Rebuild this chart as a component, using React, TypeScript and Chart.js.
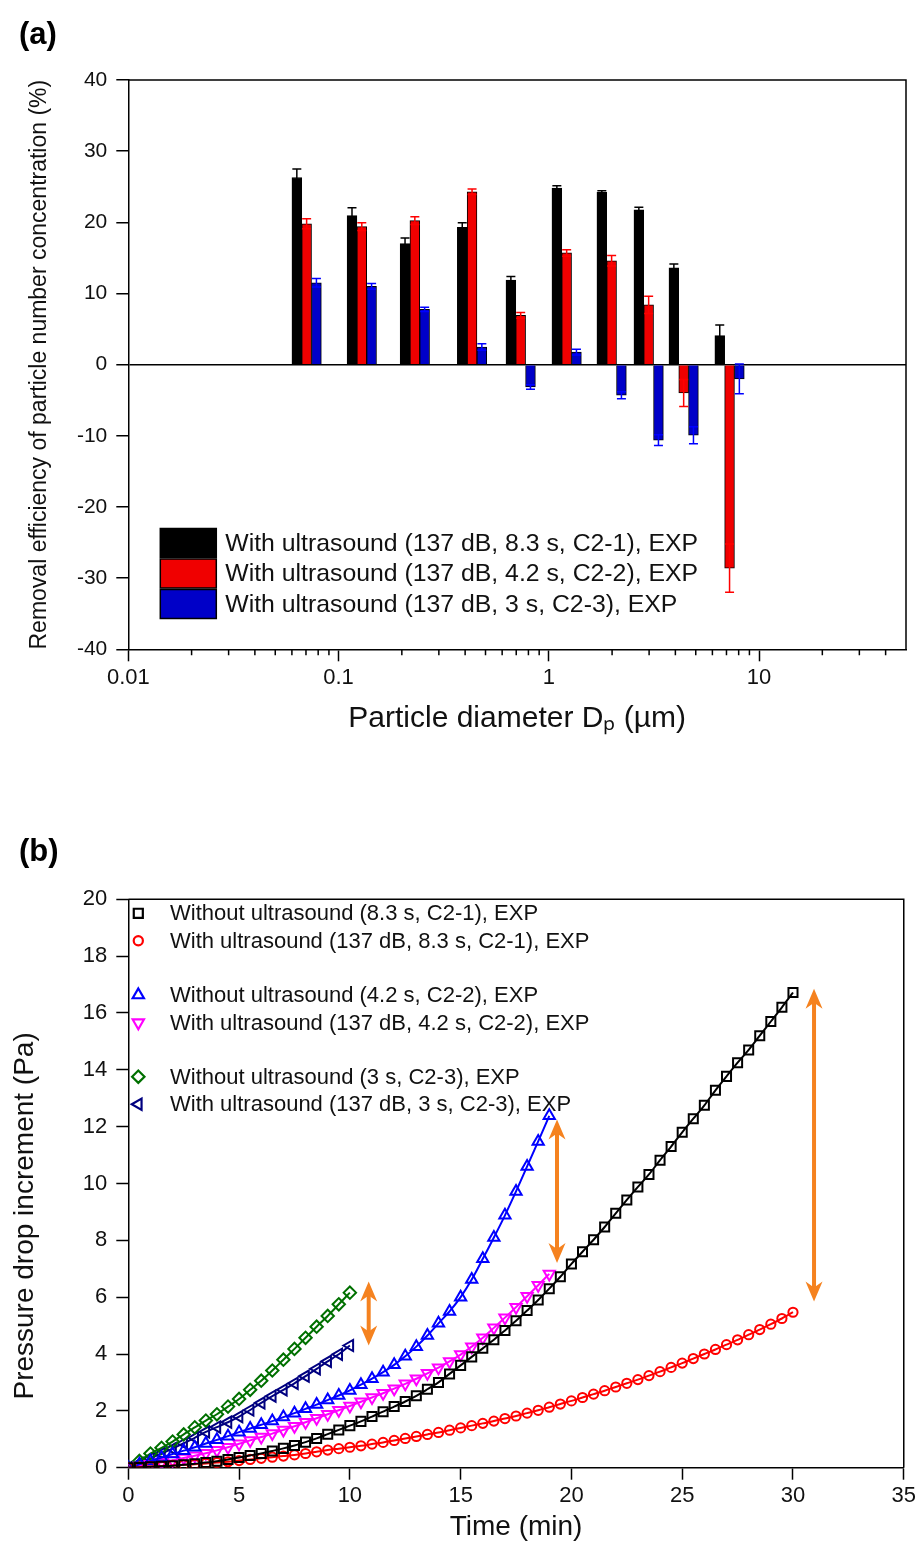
import React, { useEffect, useRef } from 'react';
import { Chart, registerables } from 'chart.js';
import { drawPoint } from 'chart.js/helpers';

Chart.register(...registerables);

const FONT = "'Liberation Sans', Arial, Helvetica, sans-serif";

// ---------- Panel (a) data ----------
const diameters = [0.0705, 0.129, 0.2306, 0.4315, 0.735, 1.216, 1.99, 2.985, 4.38, 7.24];
const effC21 = [26.3, 20.95, 17.0, 19.3, 11.9, 24.8, 24.2, 21.75, 13.6, 4.07];
const errC21 = [1.2, 1.1, 0.8, 0.65, 0.5, 0.35, 0.25, 0.37, 0.55, 1.5];
const effC22 = [19.8, 19.4, 20.25, 24.3, 6.92, 15.7, 14.6, 8.4, -3.98, -28.6];
const errC22 = [0.7, 0.55, 0.55, 0.4, 0.4, 0.45, 0.75, 1.2, 1.9, 3.4];
const effC23 = [11.5, 11.0, 7.76, 2.47, -3.14, 1.77, -4.3, -10.6, -9.92, -2.0];
const errC23 = [0.6, 0.4, 0.3, 0.45, 0.3, 0.4, 0.5, 0.75, 1.2, 2.1];
const labelsA = [
  'With ultrasound (137 dB, 8.3 s, C2-1), EXP',
  'With ultrasound (137 dB, 4.2 s, C2-2), EXP',
  'With ultrasound (137 dB, 3 s, C2-3), EXP',
];
const xMajorTicksA = [0.01, 0.1, 1, 10];
const xMinorTicksA = [0.02, 0.03, 0.04, 0.05, 0.06, 0.07, 0.08, 0.09, 0.2, 0.3, 0.4, 0.5, 0.6, 0.7, 0.8, 0.9, 2, 3, 4, 5, 6, 7, 8, 9, 20, 30, 40];

// ---------- Panel (b) data ----------
const time30 = [0, 0.5, 1, 1.5, 2, 2.5, 3, 3.5, 4, 4.5, 5, 5.5, 6, 6.5, 7, 7.5, 8, 8.5, 9, 9.5, 10, 10.5, 11, 11.5, 12, 12.5, 13, 13.5, 14, 14.5, 15, 15.5, 16, 16.5, 17, 17.5, 18, 18.5, 19, 19.5, 20, 20.5, 21, 21.5, 22, 22.5, 23, 23.5, 24, 24.5, 25, 25.5, 26, 26.5, 27, 27.5, 28, 28.5, 29, 29.5, 30];
const time19 = [0, 0.5, 1, 1.5, 2, 2.5, 3, 3.5, 4, 4.5, 5, 5.5, 6, 6.5, 7, 7.5, 8, 8.5, 9, 9.5, 10, 10.5, 11, 11.5, 12, 12.5, 13, 13.5, 14, 14.5, 15, 15.5, 16, 16.5, 17, 17.5, 18, 18.5, 19];
const time10 = [0, 0.5, 1, 1.5, 2, 2.5, 3, 3.5, 4, 4.5, 5, 5.5, 6, 6.5, 7, 7.5, 8, 8.5, 9, 9.5, 10];

const dpWithoutC21 = [0, 0.01, 0.03, 0.05, 0.07, 0.1, 0.14, 0.18, 0.23, 0.29, 0.36, 0.43, 0.5, 0.59, 0.68, 0.78, 0.9, 1.03, 1.18, 1.33, 1.48, 1.63, 1.8, 1.97, 2.15, 2.33, 2.53, 2.76, 3.0, 3.3, 3.6, 3.9, 4.2, 4.5, 4.83, 5.17, 5.53, 5.9, 6.3, 6.72, 7.17, 7.6, 8.02, 8.47, 8.95, 9.42, 9.88, 10.32, 10.82, 11.3, 11.8, 12.28, 12.75, 13.28, 13.77, 14.25, 14.7, 15.2, 15.7, 16.2, 16.72];
const dpWithC21 = [0, 0.02, 0.04, 0.06, 0.08, 0.1, 0.12, 0.15, 0.18, 0.21, 0.25, 0.29, 0.33, 0.37, 0.41, 0.45, 0.5, 0.56, 0.62, 0.67, 0.72, 0.77, 0.83, 0.89, 0.96, 1.03, 1.1, 1.17, 1.24, 1.32, 1.4, 1.48, 1.56, 1.64, 1.73, 1.82, 1.92, 2.02, 2.13, 2.24, 2.35, 2.47, 2.59, 2.71, 2.84, 2.97, 3.1, 3.24, 3.38, 3.53, 3.68, 3.84, 4.0, 4.16, 4.33, 4.5, 4.68, 4.86, 5.05, 5.25, 5.47];
const dpWithoutC22 = [0, 0.12, 0.24, 0.36, 0.48, 0.6, 0.72, 0.85, 0.98, 1.11, 1.25, 1.38, 1.51, 1.64, 1.78, 1.92, 2.07, 2.22, 2.38, 2.54, 2.72, 2.92, 3.13, 3.36, 3.62, 3.92, 4.26, 4.65, 5.08, 5.5, 6.0, 6.62, 7.35, 8.1, 8.88, 9.72, 10.6, 11.48, 12.38];
const dpWithC22 = [0, 0.06, 0.12, 0.19, 0.26, 0.34, 0.42, 0.51, 0.61, 0.72, 0.84, 0.96, 1.08, 1.2, 1.33, 1.46, 1.6, 1.74, 1.88, 2.02, 2.17, 2.32, 2.47, 2.62, 2.78, 2.95, 3.13, 3.32, 3.52, 3.74, 3.98, 4.26, 4.57, 4.92, 5.28, 5.65, 6.03, 6.42, 6.82];
const dpWithoutC23 = [0, 0.24, 0.5, 0.7, 0.92, 1.17, 1.42, 1.66, 1.88, 2.15, 2.42, 2.74, 3.06, 3.42, 3.8, 4.18, 4.57, 4.96, 5.34, 5.75, 6.16];
const dpWithC23 = [0, 0.15, 0.33, 0.5, 0.67, 0.86, 1.05, 1.26, 1.43, 1.6, 1.8, 2.03, 2.28, 2.52, 2.74, 2.97, 3.22, 3.48, 3.74, 3.99, 4.3];

const labelsB = [
  'Without ultrasound (8.3 s, C2-1), EXP',
  'With ultrasound (137 dB, 8.3 s, C2-1), EXP',
  'Without ultrasound (4.2 s, C2-2), EXP',
  'With ultrasound (137 dB, 4.2 s, C2-2), EXP',
  'Without ultrasound (3 s, C2-3), EXP',
  'With ultrasound (137 dB, 3 s, C2-3), EXP',
];

// orange double arrows (time, lower value, upper value)
const arrowTimes = [10.85, 19.35, 30.95];
const arrowLow = [4.3, 7.2, 5.85];
const arrowHigh = [6.55, 12.25, 16.85];

// ---------- helpers ----------
const boxPlugin = {
  id: 'boxLines',
  afterDraw(chart: any) {
    const { ctx, chartArea: a } = chart;
    ctx.save();
    ctx.strokeStyle = '#000';
    ctx.lineWidth = 1.5;
    ctx.beginPath();
    ctx.moveTo(a.left, a.top);
    ctx.lineTo(a.right, a.top);
    ctx.lineTo(a.right, a.bottom);
    ctx.stroke();
    ctx.restore();
  },
};

function PanelA() {
  const ref = useRef<HTMLCanvasElement>(null);
  useEffect(() => {
    const colors = ['#000000', '#F00000', '#0000C8'];
    const errColors = ['#000000', '#FF0000', '#0000FF'];
    const vals = [effC21, effC22, effC23];
    const errs = [errC21, errC22, errC23];

    const errorBarPlugin = {
      id: 'errorBars',
      afterDatasetsDraw(chart: any) {
        const { ctx } = chart;
        const yScale = chart.scales.y;
        ctx.save();
        ctx.lineWidth = 1.5;
        vals.forEach((series, i) => {
          const meta = chart.getDatasetMeta(i);
          ctx.strokeStyle = errColors[i];
          meta.data.forEach((bar: any, j: number) => {
            const yHi = yScale.getPixelForValue(series[j] + errs[i][j]);
            const yLo = yScale.getPixelForValue(series[j] - errs[i][j]);
            ctx.beginPath();
            ctx.moveTo(bar.x, yHi);
            ctx.lineTo(bar.x, yLo);
            ctx.moveTo(bar.x - 4.5, yHi);
            ctx.lineTo(bar.x + 4.5, yHi);
            ctx.moveTo(bar.x - 4.5, yLo);
            ctx.lineTo(bar.x + 4.5, yLo);
            ctx.stroke();
          });
        });
        ctx.restore();
      },
    };

    const minorTickPlugin = {
      id: 'minorTicks',
      afterDraw(chart: any) {
        const { ctx, chartArea: a } = chart;
        const xs = chart.scales.x;
        ctx.save();
        ctx.strokeStyle = '#000';
        ctx.lineWidth = 1.5;
        ctx.beginPath();
        xMinorTicksA.forEach((v) => {
          const px = xs.getPixelForValue(v);
          ctx.moveTo(px, a.bottom);
          ctx.lineTo(px, a.bottom + 6);
        });
        ctx.stroke();
        ctx.restore();
      },
    };

    const legendPlugin = {
      id: 'legendA',
      afterDraw(chart: any) {
        const { ctx, chartArea: a } = chart;
        ctx.save();
        const x0 = a.left + 32;
        const y0 = 543;
        ctx.font = `24.8px ${FONT}`;
        ctx.textBaseline = 'middle';
        ctx.textAlign = 'left';
        labelsA.forEach((lab, i) => {
          const yc = y0 + i * 30.5;
          ctx.fillStyle = colors[i];
          ctx.fillRect(x0, yc - 14.5, 56, 29);
          ctx.strokeStyle = '#000';
          ctx.lineWidth = 1.5;
          ctx.strokeRect(x0, yc - 14.5, 56, 29);
          ctx.fillStyle = '#111';
          ctx.fillText(lab, x0 + 65, yc + 1);
        });
        ctx.restore();
      },
    };

    const chart = new Chart(ref.current!, {
      type: 'bar',
      data: {
        datasets: vals.map((series, i) => ({
          label: labelsA[i],
          data: diameters.map((d, j) => ({ x: d, y: series[j] })),
          backgroundColor: colors[i],
          borderColor: '#000',
          borderWidth: 1,
          barThickness: 9.8,
        })),
      },
      options: {
        responsive: false,
        animation: false,
        layout: { padding: { left: 0, right: 13, top: 80, bottom: 0 } },
        plugins: { legend: { display: false }, tooltip: { enabled: false } },
        scales: {
          x: {
            type: 'logarithmic',
            min: 0.01,
            max: 50,
            offset: false,
            afterBuildTicks: (s: any) => {
              s.ticks = xMajorTicksA.map((v) => ({ value: v }));
            },
            afterFit: (s: any) => {
              s.height = 120.7;
            },
            grid: { offset: false, drawOnChartArea: false, drawTicks: true, tickLength: 12, tickWidth: 1.5, tickColor: '#000' },
            border: { display: true, color: '#000', width: 1.5 },
            ticks: {
              autoSkip: false,
              maxRotation: 0,
              padding: 3,
              color: '#111',
              font: { family: FONT, size: 22 },
              callback: (v: any) => String(v),
            },
            title: {
              display: true,
              text: 'Particle diameter Dₚ (µm)',
              color: '#111',
              font: { family: FONT, size: 30 },
              padding: { top: 0, bottom: 33 },
            },
          },
          y: {
            min: -40,
            max: 40,
            afterFit: (s: any) => {
              s.width = 128.3;
            },
            grid: {
              color: (c: any) => (c.tick && c.tick.value === 0 ? '#000' : 'rgba(0,0,0,0)'),
              lineWidth: 1.5,
              drawTicks: true,
              tickLength: 12,
              tickWidth: 1.5,
              tickColor: '#000',
            },
            border: { display: true, color: '#000', width: 1.5 },
            ticks: { stepSize: 10, padding: 9, color: '#111', font: { family: FONT, size: 21 } },
            title: {
              display: true,
              text: 'Removal efficiency of particle number concentration (%)',
              color: '#111',
              font: { family: FONT, size: 23 },
              padding: { top: 26, bottom: 0 },
            },
          },
        },
      },
      plugins: [errorBarPlugin, minorTickPlugin, boxPlugin, legendPlugin],
    } as any);
    return () => chart.destroy();
  }, []);
  return <canvas ref={ref} width={919} height={770} style={{ position: 'absolute', left: 0, top: 0, width: 919, height: 770 }} />;
}

function PanelB() {
  const ref = useRef<HTMLCanvasElement>(null);
  useEffect(() => {
    const series = [
      { t: time30, v: dpWithoutC21, color: '#000000', style: 'rect', rot: 0, r: 6.4 },
      { t: time30, v: dpWithC21, color: '#FF0000', style: 'circle', rot: 0, r: 4.6 },
      { t: time19, v: dpWithoutC22, color: '#0000FF', style: 'triangle', rot: 0, r: 6.5 },
      { t: time19, v: dpWithC22, color: '#FF00FF', style: 'triangle', rot: 180, r: 6.5 },
      { t: time10, v: dpWithoutC23, color: '#007000', style: 'rectRot', rot: 0, r: 6.2 },
      { t: time10, v: dpWithC23, color: '#000080', style: 'triangle', rot: 270, r: 6.5 },
    ];
    const yTitleB = 'Pressure drop increment (Pa)';

    const arrowPlugin = {
      id: 'arrows',
      afterDatasetsDraw(chart: any) {
        const { ctx } = chart;
        const xs = chart.scales.x;
        const ys = chart.scales.y;
        ctx.save();
        ctx.fillStyle = '#F5821F';
        ctx.strokeStyle = '#F5821F';
        arrowTimes.forEach((t, i) => {
          const x = xs.getPixelForValue(t);
          const yTop = ys.getPixelForValue(arrowHigh[i]);
          const yBot = ys.getPixelForValue(arrowLow[i]);
          ctx.lineWidth = 4;
          ctx.beginPath();
          ctx.moveTo(x, yTop + 10);
          ctx.lineTo(x, yBot - 10);
          ctx.stroke();
          ctx.beginPath();
          ctx.moveTo(x, yTop);
          ctx.lineTo(x - 8.5, yTop + 20);
          ctx.lineTo(x, yTop + 14);
          ctx.lineTo(x + 8.5, yTop + 20);
          ctx.closePath();
          ctx.fill();
          ctx.beginPath();
          ctx.moveTo(x, yBot);
          ctx.lineTo(x - 8.5, yBot - 20);
          ctx.lineTo(x, yBot - 14);
          ctx.lineTo(x + 8.5, yBot - 20);
          ctx.closePath();
          ctx.fill();
        });
        ctx.restore();
      },
    };

    const legendPlugin = {
      id: 'legendB',
      afterDraw(chart: any) {
        const { ctx, chartArea: a } = chart;
        const rows = [14, 41.4, 95.7, 123.4, 177.4, 205];
        ctx.save();
        ctx.font = `22px ${FONT}`;
        ctx.textBaseline = 'middle';
        ctx.textAlign = 'left';
        series.forEach((s, i) => {
          const y = a.top + rows[i];
          ctx.strokeStyle = s.color;
          ctx.fillStyle = 'rgba(0,0,0,0)';
          ctx.lineWidth = 2.2;
          drawPoint(ctx, { pointStyle: s.style, rotation: s.rot, radius: s.r, borderWidth: 2.2 } as any, a.left + 10, y);
          ctx.fillStyle = '#111';
          ctx.fillText(labelsB[i], a.left + 41.7, y + 1);
        });
        ctx.restore();
      },
    };

    const yTitlePlugin = {
      id: 'yTitleB',
      afterDraw(chart: any) {
        const { ctx, chartArea: a } = chart;
        ctx.save();
        ctx.translate(25, a.top + 0.557 * (a.bottom - a.top));
        ctx.rotate(-Math.PI / 2);
        ctx.font = `28px ${FONT}`;
        ctx.fillStyle = '#111';
        ctx.textAlign = 'center';
        ctx.textBaseline = 'middle';
        ctx.fillText(yTitleB, 0, 0);
        ctx.restore();
      },
    };

    const chart = new Chart(ref.current!, {
      type: 'scatter',
      data: {
        datasets: series.map((s, i) => ({
          label: labelsB[i],
          data: s.t.map((t, j) => ({ x: t, y: s.v[j] })),
          showLine: true,
          tension: 0.3,
          borderColor: s.color,
          borderWidth: 2,
          pointStyle: s.style,
          pointRotation: s.rot,
          pointRadius: s.r,
          pointBorderWidth: 2,
          pointBorderColor: s.color,
          pointBackgroundColor: 'rgba(0,0,0,0)',
          fill: false,
        })),
      },
      options: {
        responsive: false,
        animation: false,
        layout: { padding: { left: 0, right: 15, top: 129.3, bottom: 0 } },
        plugins: { legend: { display: false }, tooltip: { enabled: false } },
        scales: {
          x: {
            type: 'linear',
            min: 0,
            max: 35,
            afterFit: (s: any) => {
              s.height = 92.3;
            },
            grid: { drawOnChartArea: false, drawTicks: true, tickLength: 12, tickWidth: 1.5, tickColor: '#000' },
            border: { display: true, color: '#000', width: 1.5 },
            ticks: { stepSize: 5, padding: 3, maxRotation: 0, color: '#111', font: { family: FONT, size: 22 } },
            title: {
              display: true,
              text: 'Time (min)',
              color: '#111',
              font: { family: FONT, size: 28 },
              padding: { top: 0, bottom: 16 },
            },
          },
          y: {
            min: 0,
            max: 20,
            afterFit: (s: any) => {
              s.width = 128.3;
            },
            grid: { drawOnChartArea: false, drawTicks: true, tickLength: 12, tickWidth: 1.5, tickColor: '#000' },
            border: { display: true, color: '#000', width: 1.5 },
            ticks: { stepSize: 2, padding: 9, color: '#111', font: { family: FONT, size: 22 } },
            title: { display: false },
          },
        },
      },
      plugins: [arrowPlugin, boxPlugin, legendPlugin, yTitlePlugin],
    } as any);
    return () => chart.destroy();
  }, []);
  return <canvas ref={ref} width={919} height={790} style={{ position: 'absolute', left: 0, top: 770, width: 919, height: 790 }} />;
}

export default function App() {
  const labelStyle: React.CSSProperties = {
    position: 'absolute',
    left: 19,
    fontFamily: FONT,
    fontWeight: 'bold',
    fontSize: 31,
    color: '#000',
    lineHeight: '36px',
  };
  return (
    <div style={{ position: 'absolute', left: 0, top: 0, width: 919, height: 1560, background: '#fff', overflow: 'hidden' }}>
      <PanelA />
      <PanelB />
      <div style={{ ...labelStyle, top: 16 }}>(a)</div>
      <div style={{ ...labelStyle, top: 833 }}>(b)</div>
    </div>
  );
}
